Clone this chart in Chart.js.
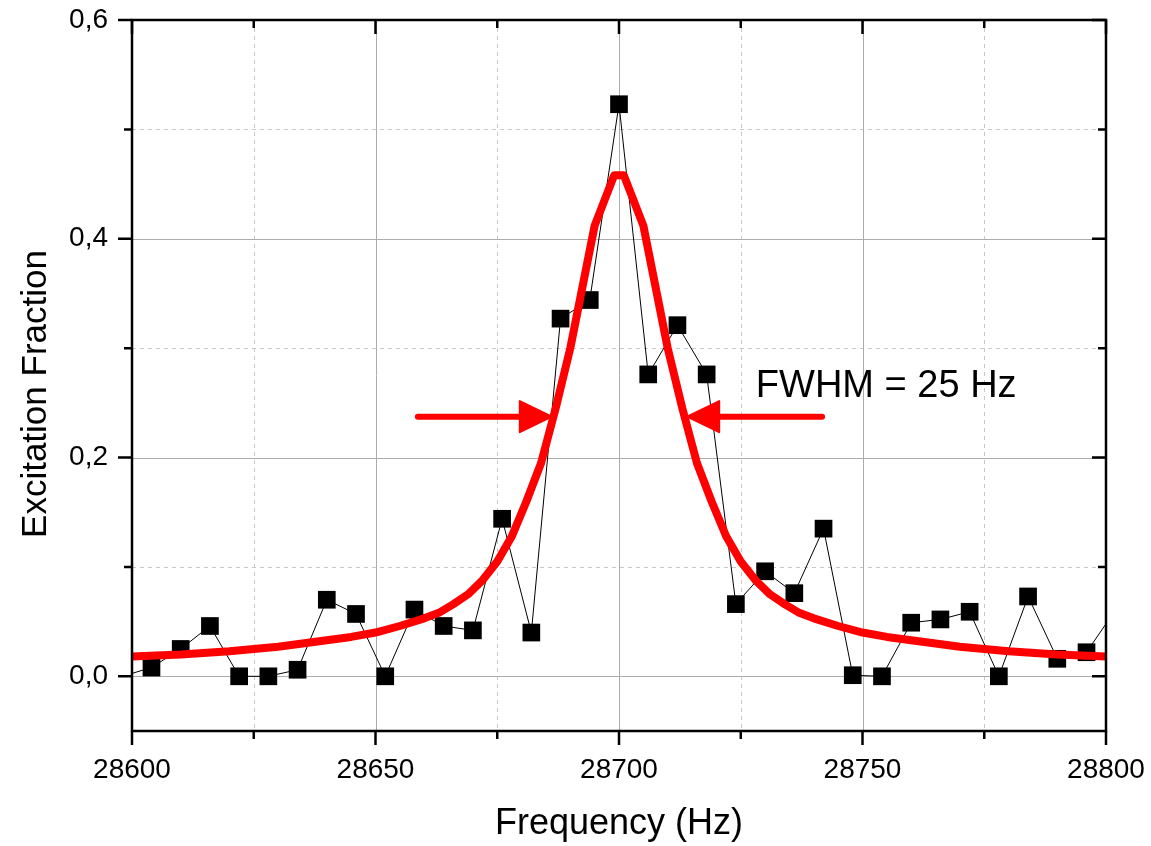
<!DOCTYPE html>
<html>
<head>
<meta charset="utf-8">
<script src="https://cdn.jsdelivr.net/npm/chart.js@4.4.1/dist/chart.umd.min.js"></script>
<style>
  html, body { margin: 0; padding: 0; background: #fff; }
  #wrap { width: 1151px; height: 846px; position: relative; }
</style>
</head>
<body>
<div id="wrap"><canvas id="resonanceChart"></canvas></div>
<script>
// measured points (Hz, excitation fraction)
const dataFreq = [28598, 28604, 28610, 28616, 28622, 28628, 28634, 28640, 28646, 28652,
  28658, 28664, 28670, 28676, 28682, 28688, 28694, 28700, 28706, 28712,
  28718, 28724, 28730, 28736, 28742, 28748, 28754, 28760, 28766, 28772,
  28778, 28784, 28790, 28796, 28802];
const dataValue = [0.000, 0.008, 0.025, 0.046, 0.000, 0.000, 0.006, 0.070, 0.057, 0.000,
  0.061, 0.046, 0.042, 0.144, 0.040, 0.327, 0.344, 0.523, 0.276, 0.321,
  0.276, 0.066, 0.096, 0.076, 0.135, 0.001, 0.000, 0.049, 0.052, 0.059,
  0.000, 0.073, 0.016, 0.022, 0.061];

// fitted curve
const fitFreq = [28600, 28610, 28620, 28630, 28640, 28645, 28650, 28655, 28660, 28663,
  28666, 28669, 28672, 28675, 28678, 28681, 28684, 28687, 28690, 28695,
  28699, 28701, 28705, 28710, 28713, 28716, 28719, 28722, 28725, 28728,
  28731, 28734, 28737, 28740, 28745, 28750, 28755, 28760, 28770, 28780,
  28790, 28800];
const fitValue = [0.018, 0.020, 0.023, 0.027, 0.033, 0.036, 0.040, 0.046, 0.053, 0.058,
  0.066, 0.075, 0.088, 0.105, 0.128, 0.160, 0.195, 0.245, 0.300, 0.412,
  0.458, 0.458, 0.412, 0.300, 0.245, 0.195, 0.160, 0.128, 0.105, 0.088,
  0.075, 0.066, 0.058, 0.053, 0.046, 0.040, 0.036, 0.033, 0.027, 0.023,
  0.020, 0.018];

// axis ticks
const xMajorTicks = [28600, 28650, 28700, 28750, 28800];
const xMinorTicks = [28625, 28675, 28725, 28775];
const yMajorTicks = [0, 0.2, 0.4, 0.6];
const yMinorTicks = [0.1, 0.3, 0.5];

// FWHM annotation (data units)
const fwhmLabel = "FWHM = 25 Hz";
const arrowLevel = 0.2374;
const leftArrow = [28658.7, 28686.2];   // tail, tip
const rightArrow = [28741.7, 28714.0];  // tail, tip
const labelPos = [28728.1, 0.2557];

const FONT = '"Liberation Sans", Arial, Helvetica, sans-serif';
Chart.defaults.font.family = FONT;
Chart.defaults.color = '#000';

// grid behind the data
const gridPlugin = {
  id: 'gridPlugin',
  beforeDatasetsDraw(chart) {
    const { ctx, chartArea: { left, right, top, bottom }, scales: { x, y } } = chart;
    ctx.save();
    ctx.lineWidth = 1;

    // minor (dashed)
    ctx.strokeStyle = '#c8c8c8';
    ctx.setLineDash([4, 4]);
    ctx.beginPath();
    xMinorTicks.forEach(v => {
      const px = Math.round(x.getPixelForValue(v)) + 0.5;
      ctx.moveTo(px, top); ctx.lineTo(px, bottom);
    });
    yMinorTicks.forEach(v => {
      const py = Math.round(y.getPixelForValue(v)) + 0.5;
      ctx.moveTo(left, py); ctx.lineTo(right, py);
    });
    ctx.stroke();

    // major (solid)
    ctx.setLineDash([]);
    ctx.strokeStyle = '#acacac';
    ctx.beginPath();
    xMajorTicks.forEach(v => {
      const px = Math.round(x.getPixelForValue(v)) + 0.5;
      ctx.moveTo(px, top); ctx.lineTo(px, bottom);
    });
    yMajorTicks.forEach(v => {
      const py = Math.round(y.getPixelForValue(v)) + 0.5;
      ctx.moveTo(left, py); ctx.lineTo(right, py);
    });
    ctx.stroke();
    ctx.restore();
  }
};

// frame, tick marks, arrows and label on top
const framePlugin = {
  id: 'framePlugin',
  afterDatasetsDraw(chart) {
    const { ctx, chartArea: { left, right, top, bottom }, scales: { x, y } } = chart;
    ctx.save();
    ctx.strokeStyle = '#000';
    ctx.lineWidth = 2.5;
    ctx.strokeRect(left, top, right - left, bottom - top);

    const major = 14, minor = 8;
    ctx.beginPath();
    const xt = (v, len) => {
      const px = x.getPixelForValue(v);
      ctx.moveTo(px, bottom); ctx.lineTo(px, bottom + len);   // outward
      ctx.moveTo(px, top); ctx.lineTo(px, top + len);         // inward
    };
    const yt = (v, len) => {
      const py = y.getPixelForValue(v);
      ctx.moveTo(left, py); ctx.lineTo(left - len, py);       // outward
      ctx.moveTo(right, py); ctx.lineTo(right - len, py);     // inward
    };
    xMajorTicks.forEach(v => xt(v, major));
    xMinorTicks.forEach(v => xt(v, minor));
    yMajorTicks.forEach(v => yt(v, major));
    yMinorTicks.forEach(v => yt(v, minor));
    ctx.stroke();

    // arrows
    const ay = y.getPixelForValue(arrowLevel);
    const drawArrow = (tail, tip) => {
      const x0 = x.getPixelForValue(tail);
      const x1 = x.getPixelForValue(tip);
      const dir = Math.sign(x1 - x0);
      const headLen = 32, headHalf = 15.5;
      ctx.strokeStyle = '#ff0000';
      ctx.fillStyle = '#ff0000';
      ctx.lineWidth = 6;
      ctx.lineCap = 'round';
      ctx.beginPath();
      ctx.moveTo(x0, ay);
      ctx.lineTo(x1 - dir * headLen, ay);
      ctx.stroke();
      ctx.lineJoin = 'round';
      ctx.lineWidth = 2;
      ctx.beginPath();
      ctx.moveTo(x1, ay);
      ctx.lineTo(x1 - dir * headLen, ay - headHalf);
      ctx.lineTo(x1 - dir * headLen, ay + headHalf);
      ctx.closePath();
      ctx.fill();
      ctx.stroke();
    };
    drawArrow(leftArrow[0], leftArrow[1]);
    drawArrow(rightArrow[0], rightArrow[1]);

    ctx.fillStyle = '#000';
    ctx.font = '38px ' + FONT;
    ctx.textAlign = 'left';
    ctx.textBaseline = 'alphabetic';
    ctx.fillText(fwhmLabel, x.getPixelForValue(labelPos[0]), y.getPixelForValue(labelPos[1]));

    // y axis title
    ctx.translate(36, 394);
    ctx.rotate(-Math.PI / 2);
    ctx.font = '35px ' + FONT;
    ctx.textAlign = 'center';
    ctx.textBaseline = 'middle';
    ctx.fillText('Excitation Fraction', 0, 0);
    ctx.restore();
  }
};

const ctx = document.getElementById('resonanceChart').getContext('2d');
new Chart(ctx, {
  type: 'scatter',
  data: {
    datasets: [
      {
        label: 'Fit',
        data: fitFreq.map((f, i) => ({ x: f, y: fitValue[i] })),
        showLine: true,
        borderColor: '#ff0000',
        borderWidth: 8,
        borderJoinStyle: 'round',
        pointRadius: 0,
        pointHoverRadius: 0,
        tension: 0,
        clip: 0
      },
      {
        label: 'Data',
        data: dataFreq.map((f, i) => ({ x: f, y: dataValue[i] })),
        showLine: true,
        borderColor: '#000',
        borderWidth: 1,
        pointStyle: 'rect',
        pointRadius: 12.5,
        pointBackgroundColor: '#000',
        pointBorderColor: '#000',
        pointBorderWidth: 0,
        clip: 0
      }
    ]
  },
  options: {
    responsive: true,
    maintainAspectRatio: false,
    animation: false,
    devicePixelRatio: 1,
    layout: { padding: { top: 20, right: 45, left: 0, bottom: 0 } },
    plugins: {
      legend: { display: false },
      tooltip: { enabled: false }
    },
    scales: {
      x: {
        type: 'linear',
        min: 28600,
        max: 28800,
        afterBuildTicks: s => { s.ticks = xMajorTicks.map(v => ({ value: v })); },
        afterFit: s => {
          s.height = 115;
          s.paddingLeft = 0;
          s.paddingRight = 0;
        },
        grid: { display: false, drawTicks: false },
        border: { display: false },
        ticks: {
          padding: 22,
          maxRotation: 0,
          autoSkip: false,
          font: { size: 28 },
          color: '#000',
          callback: v => String(v)
        },
        title: {
          display: true,
          text: 'Frequency (Hz)',
          font: { size: 36 },
          color: '#000',
          padding: { top: 2, bottom: 0 }
        }
      },
      y: {
        type: 'linear',
        min: -0.05,
        max: 0.6,
        afterBuildTicks: s => { s.ticks = yMajorTicks.map(v => ({ value: v })); },
        afterFit: s => {
          s.width = 132;
          s.paddingTop = 0;
          s.paddingBottom = 0;
        },
        grid: { display: false, drawTicks: false },
        border: { display: false },
        ticks: {
          padding: 24,
          autoSkip: false,
          font: { size: 28 },
          color: '#000',
          callback: v => v.toFixed(1).replace('.', ',')
        }
      }
    }
  },
  plugins: [gridPlugin, framePlugin]
});
</script>
</body>
</html>
